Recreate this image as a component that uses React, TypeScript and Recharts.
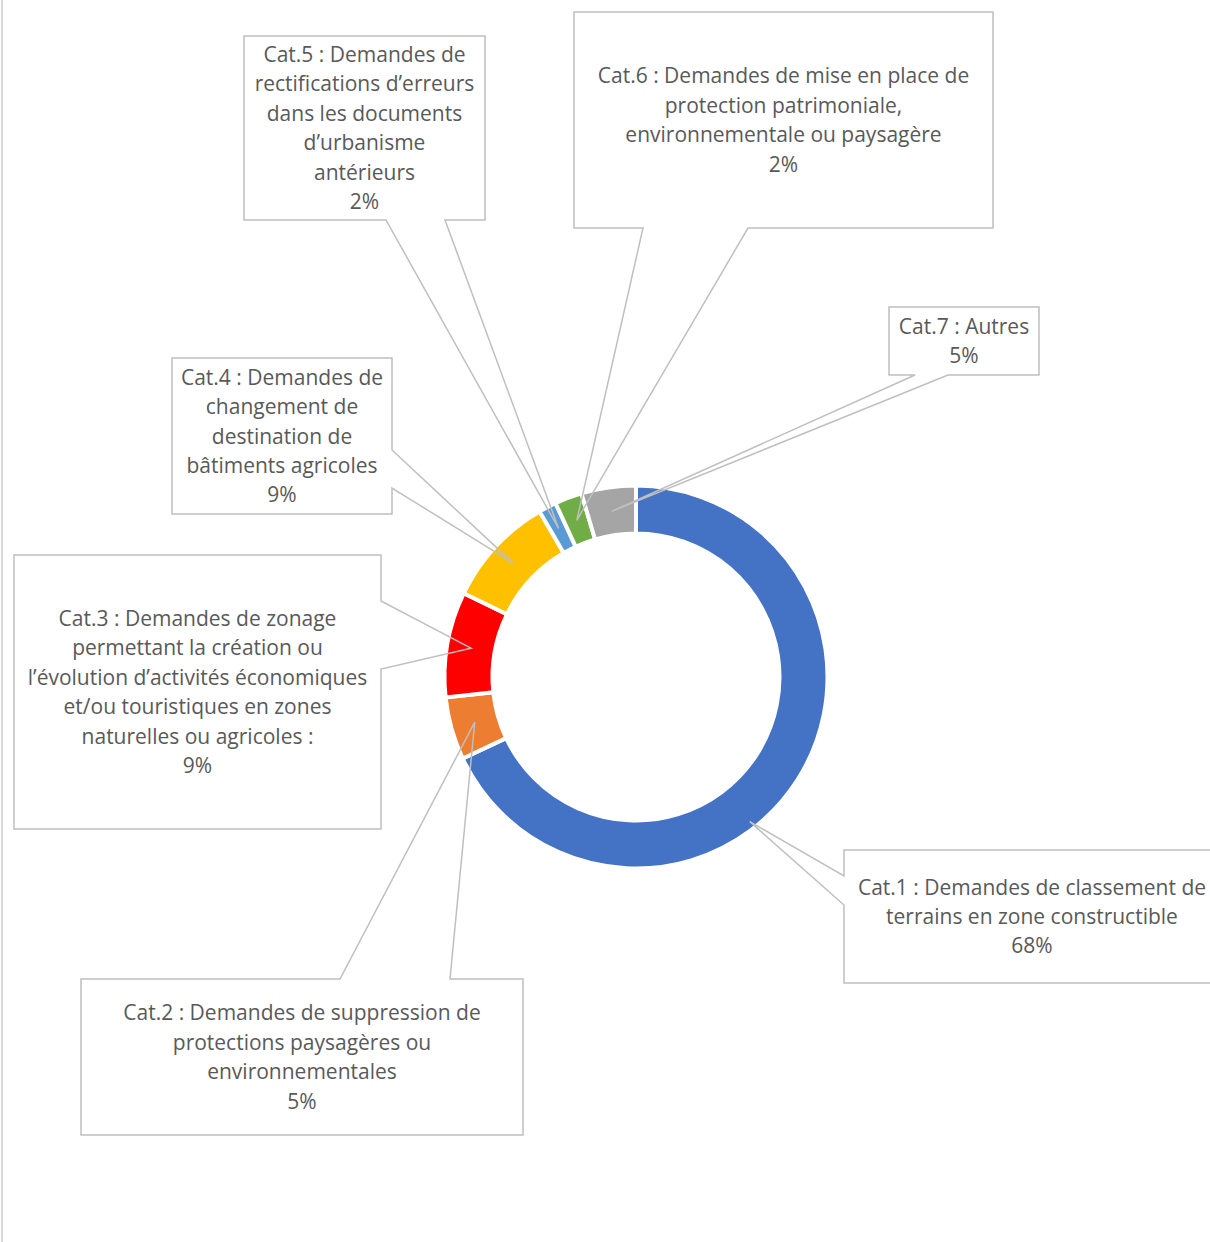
import React from 'react'
import { PieChart, Pie, Cell } from 'recharts'

// categories (text lines as shown in the callouts)
const categoryLines: string[][] = [
  ['Cat.1 : Demandes de classement de', 'terrains en zone constructible'],
  ['Cat.2 : Demandes de suppression de', 'protections paysagères ou', 'environnementales'],
  [
    'Cat.3 : Demandes de zonage',
    'permettant la création ou',
    'l’évolution d’activités économiques',
    'et/ou touristiques en zones',
    'naturelles ou agricoles :',
  ],
  ['Cat.4 : Demandes de', 'changement de', 'destination de', 'bâtiments agricoles'],
  ['Cat.5 : Demandes de', 'rectifications d’erreurs', 'dans les documents', 'd’urbanisme', 'antérieurs'],
  ['Cat.6 : Demandes de mise en place de', 'protection patrimoniale,', 'environnementale ou paysagère'],
  ['Cat.7 : Autres'],
]

// share of requests (%)
const shares = [68.0, 5.3, 8.9, 9.4, 1.5, 2.3, 4.6]

const colors = ['#4472C4', '#ED7D31', '#FF0000', '#FFC000', '#5B9BD5', '#70AD47', '#A5A5A5']

const data = categoryLines.map((lines, i) => ({ name: lines.join(' '), value: shares[i] }))

// callout boxes: rectangle + which side the wedge leaves from (a..b along that side)
type Side = 'top' | 'bottom' | 'left' | 'right'
interface Box {
  x: number
  y: number
  w: number
  h: number
  side: Side
  a: number
  b: number
  shift?: number
  tipR?: number
}
const boxes: Box[] = [
  { x: 844, y: 850, w: 376, h: 133, side: 'left', a: 876, b: 905, shift: -19.4, tipR: 184 },
  { x: 81, y: 979, w: 442, h: 156, side: 'top', a: 340, b: 450 },
  { x: 14, y: 555, w: 367, h: 274, side: 'right', a: 601, b: 669 },
  { x: 172, y: 358, w: 220, h: 156, side: 'right', a: 450, b: 488 },
  { x: 244, y: 36, w: 241, h: 184, side: 'bottom', a: 386, b: 445 },
  { x: 574, y: 12, w: 419, h: 216, side: 'bottom', a: 643, b: 748 },
  { x: 889, y: 307, w: 150, h: 68, side: 'bottom', a: 915, b: 948 },
]

const RADIAN = Math.PI / 180
const LINE_H = 29.4
const FONT = '"Open Sans", Lato, sans-serif'

function calloutPath(bx: Box, tx: number, ty: number) {
  const { x, y, w, h, side, a, b } = bx
  const r = x + w
  const btm = y + h
  const t = `L${tx},${ty}`
  switch (side) {
    case 'bottom':
      return `M${x},${y}H${r}V${btm}H${b}${t}L${a},${btm}H${x}Z`
    case 'top':
      return `M${x},${y}H${a}${t}L${b},${y}H${r}V${btm}H${x}Z`
    case 'right':
      return `M${x},${y}H${r}V${a}${t}L${r},${b}V${btm}H${x}Z`
    default:
      return `M${x},${y}H${r}V${btm}H${x}V${b}${t}L${x},${a}Z`
  }
}

function Callout(props: any) {
  const { cx, cy, midAngle, innerRadius, outerRadius, index, value } = props
  const bx = boxes[index]
  const ang = (midAngle + (bx.shift || 0)) * RADIAN
  const rr = bx.tipR || (innerRadius + outerRadius) / 2
  const tx = cx + rr * Math.cos(-ang)
  const ty = cy + rr * Math.sin(-ang)
  const lines = [...categoryLines[index], `${Math.round(value)}%`]
  const centerX = bx.x + bx.w / 2
  const first = bx.y + bx.h / 2 - ((lines.length - 1) * LINE_H) / 2
  return (
    <g>
      <path d={calloutPath(bx, tx, ty)} fill="none" stroke="#BFBFBF" strokeWidth={1.5} />
      <text
        x={centerX}
        textAnchor="middle"
        fill="#595959"
        fontSize={21}
        fontFamily={FONT}
      >
        {lines.map((ln, i) => (
          <tspan key={i} x={centerX} y={first + i * LINE_H + 7.5}>
            {ln}
          </tspan>
        ))}
      </text>
    </g>
  )
}

export default function App() {
  return (
    <div style={{ position: 'absolute', left: 0, top: 0, width: 1210, height: 1242, background: '#fff' }}>
      <PieChart width={1210} height={1242} margin={{ top: 0, right: 0, bottom: 0, left: 0 }}>
        <line x1={2} y1={0} x2={2} y2={1242} stroke="#D9D9D9" strokeWidth={2} />
        <Pie
          data={data}
          dataKey="value"
          nameKey="name"
          cx={636}
          cy={677}
          innerRadius={143.5}
          outerRadius={191.5}
          startAngle={90}
          endAngle={-270}
          stroke="#FFFFFF"
          strokeWidth={4}
          label={Callout}
          labelLine={false}
          isAnimationActive={false}
        >
          {data.map((d, i) => (
            <Cell key={d.name} fill={colors[i]} />
          ))}
        </Pie>
      </PieChart>
    </div>
  )
}
